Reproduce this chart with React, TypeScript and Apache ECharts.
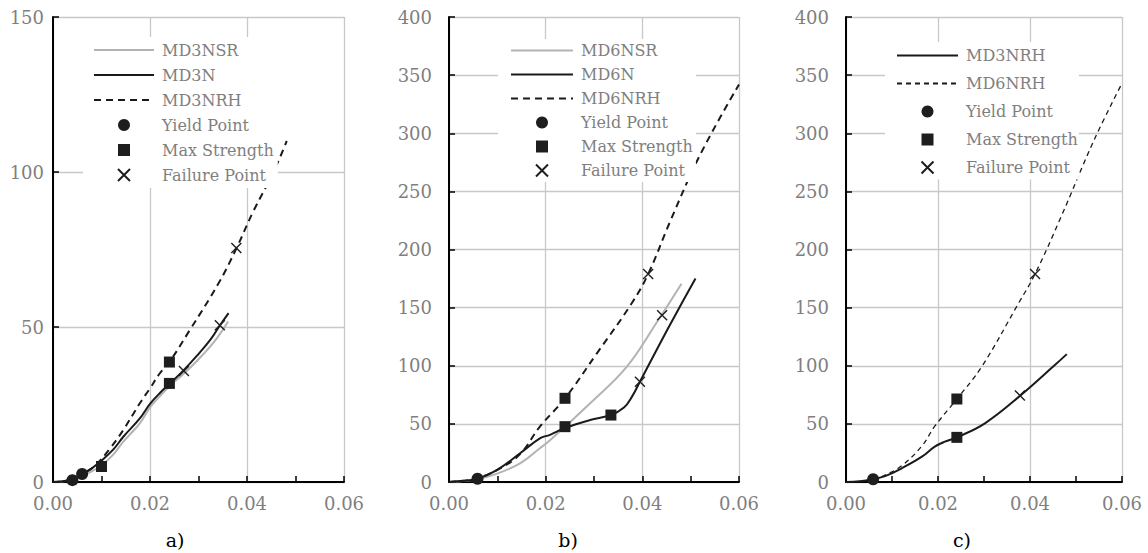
import React, { useEffect, useRef } from "react";
import * as echarts from "echarts";

type Pt = [number, number];

// ---------- Panel a) ----------
const aMD3NSR: Pt[] = [[0, 0], [0.003, 0.4], [0.005, 1.3], [0.0075, 3], [0.01, 5.4], [0.0125, 9], [0.0145, 13], [0.0179, 18.9], [0.02, 24.1], [0.022, 27.6], [0.024, 30.9], [0.027, 35], [0.03, 39.6], [0.0335, 45.8], [0.0361, 51.8]];
const aMD3N: Pt[] = [[0, 0], [0.003, 0.5], [0.0045, 1.3], [0.006, 2.6], [0.008, 4.4], [0.01, 6.9], [0.0125, 10.6], [0.0145, 14.6], [0.0179, 20.5], [0.02, 25.2], [0.0221, 28.8], [0.024, 31.6], [0.0269, 36], [0.0296, 40.6], [0.0325, 46], [0.0344, 50.5], [0.0362, 54.5]];
const aMD3NRH: Pt[] = [[0, 0], [0.003, 0.5], [0.006, 2.6], [0.0085, 5], [0.0118, 10.9], [0.0145, 16.8], [0.0179, 25.4], [0.02, 30.2], [0.022, 35], [0.024, 38.7], [0.0282, 49], [0.0341, 64], [0.0378, 75.3], [0.0413, 87.3], [0.0454, 99.8], [0.0482, 110]];
const aYield: Pt[] = [[0.004, 0.6], [0.006, 2.6]];
const aMaxStrength: Pt[] = [[0.01, 5], [0.024, 31.8], [0.024, 38.7]];
const aFailure: Pt[] = [[0.027, 35.8], [0.0344, 50.6], [0.0378, 75.5]];

// ---------- Panel b) ----------
const bMD6NSR: Pt[] = [[0, 0], [0.003, 0.8], [0.006, 2.5], [0.0098, 7], [0.0147, 16], [0.0188, 29], [0.0209, 36], [0.024, 47.6], [0.0292, 67.7], [0.0368, 99.2], [0.0433, 139.4], [0.0481, 170.6]];
const bMD6N: Pt[] = [[0, 0], [0.003, 1], [0.0059, 2.8], [0.0098, 10], [0.0147, 24.7], [0.0188, 37.6], [0.0209, 40.6], [0.024, 46.5], [0.0292, 53.3], [0.0335, 57.6], [0.0362, 64], [0.0378, 73], [0.0395, 86.3], [0.0433, 116.4], [0.047, 145], [0.051, 175]];
const bMD6NRH: Pt[] = [[0, 0], [0.005, 2.5], [0.0098, 10], [0.0146, 23.6], [0.0188, 47.6], [0.024, 72], [0.0306, 110.7], [0.0378, 153.7], [0.0412, 178.8], [0.0457, 223.6], [0.0519, 281], [0.06, 342]];
const bYield: Pt[] = [[0.0059, 2.8]];
const bMaxStrength: Pt[] = [[0.024, 72], [0.024, 47.6], [0.0335, 57.6]];
const bFailure: Pt[] = [[0.0412, 179], [0.0441, 143.5], [0.0395, 86.3]];

// ---------- Panel c) ----------
const cMD3NRH: Pt[] = [[0, 0], [0.003, 0.6], [0.0059, 2.4], [0.0085, 5], [0.0121, 11.8], [0.0165, 21.8], [0.0193, 30.4], [0.0215, 34.7], [0.0241, 38.4], [0.0302, 50.5], [0.0378, 74], [0.0454, 100.6], [0.048, 110]];
const cMD6NRH: Pt[] = [[0, 0], [0.003, 0.6], [0.0059, 2.4], [0.0085, 6], [0.0121, 14], [0.0165, 31], [0.0193, 48], [0.0241, 71.4], [0.0295, 99.2], [0.0375, 153.7], [0.0411, 179], [0.0466, 226.7], [0.0538, 293], [0.06, 343]];
const cYield: Pt[] = [[0.0059, 2.4]];
const cMaxStrength: Pt[] = [[0.0241, 71.4], [0.0241, 38.4]];
const cFailure: Pt[] = [[0.0411, 179], [0.0378, 74.5]];

// ---------- Axes / labels ----------
const xRange = { min: 0, max: 0.06, interval: 0.02 };
const yMaxes = [150, 400, 400];
const yInterval = 50;
const panelCaptions = ["a)", "b)", "c)"];

const FONT = "DejaVu Serif";
const BLACK = "#1a1a1a";
const GRAY_LINE = "#b3b3b3";
const LABEL_GRAY = "#7f7f7f";
const CROSS = "path://M0,0L10,10M10,0L0,10";
const SQUARE = "path://M0,0L10,0L10,10L0,10Z";

const grids = [
  { left: 53, top: 17, width: 291, height: 465 },
  { left: 449, top: 17, width: 290, height: 465 },
  { left: 846, top: 17, width: 276, height: 465 },
];
const yLabelMargins = [9, 17, 17];
const captionX = [175, 568, 962];

function lineSeries(name: string, data: Pt[], gi: number, color: string, width: number, dash?: number[]) {
  return {
    type: "line",
    name,
    data,
    xAxisIndex: gi,
    yAxisIndex: gi,
    symbol: "none",
    showSymbol: false,
    smooth: 0.4,
    z: 2,
    lineStyle: { color, width, type: dash ? dash : "solid", cap: "butt" },
    itemStyle: { color },
  };
}

function scatterSeries(name: string, data: Pt[], gi: number, kind: "circle" | "square" | "cross") {
  const base: any = {
    type: "scatter",
    name,
    data,
    xAxisIndex: gi,
    yAxisIndex: gi,
    z: 3,
  };
  if (kind === "circle") {
    base.symbol = "circle";
    base.symbolSize = 12;
    base.itemStyle = { color: "#1e1e1e", opacity: 1 };
  } else if (kind === "square") {
    base.symbol = SQUARE;
    base.symbolSize = 11;
    base.itemStyle = { color: "#1e1e1e", opacity: 1 };
  } else {
    base.symbol = CROSS;
    base.symbolSize = 10;
    base.itemStyle = { color: "rgba(0,0,0,0)", borderColor: "#1e1e1e", borderWidth: 1.4, opacity: 1 };
  }
  return base;
}

function legendData(prefix: string, lines: string[], points: string[]) {
  return [
    ...lines.map((n) => ({ name: prefix + n, itemStyle: { opacity: 0 } })),
    ...points.map((n) => ({ name: prefix + n })),
  ];
}

export default function App() {
  const ref = useRef<HTMLDivElement>(null);

  useEffect(() => {
    if (!ref.current) return;
    const chart = echarts.init(ref.current, undefined, { renderer: "svg" });

    const xAxes = grids.map((_, gi) => ({
      type: "value",
      gridIndex: gi,
      min: xRange.min,
      max: xRange.max,
      interval: xRange.interval,
      axisLine: { show: true, onZero: false, lineStyle: { color: "#000", width: 2 } },
      axisTick: { show: true, inside: true, length: 6, lineStyle: { color: "#000", width: 1.5 } },
      minorTick: { show: true, splitNumber: 2, length: 6, lineStyle: { color: "#000", width: 1.5 } },
      axisLabel: {
        color: LABEL_GRAY,
        fontFamily: FONT,
        fontSize: 18,
        margin: 12,
        formatter: (v: number) => v.toFixed(2),
      },
      splitLine: { show: true, lineStyle: { color: "#c8c8c8", width: 1.3 } },
    }));

    const yAxes = grids.map((_, gi) => ({
      type: "value",
      gridIndex: gi,
      min: 0,
      max: yMaxes[gi],
      interval: yInterval,
      axisLine: { show: true, onZero: false, lineStyle: { color: "#000", width: 2 } },
      axisTick: { show: true, inside: true, length: 6, lineStyle: { color: "#000", width: 1.5 } },
      axisLabel: {
        color: LABEL_GRAY,
        fontFamily: FONT,
        fontSize: 18,
        margin: yLabelMargins[gi],
      },
      splitLine: { show: true, lineStyle: { color: "#c8c8c8", width: 1.3 } },
    }));

    const series = [
      lineSeries("a:MD3NSR", aMD3NSR, 0, GRAY_LINE, 2),
      lineSeries("a:MD3N", aMD3N, 0, BLACK, 2),
      lineSeries("a:MD3NRH", aMD3NRH, 0, BLACK, 2, [7, 5]),
      scatterSeries("a:Yield Point", aYield, 0, "circle"),
      scatterSeries("a:Max Strength", aMaxStrength, 0, "square"),
      scatterSeries("a:Failure Point", aFailure, 0, "cross"),

      lineSeries("b:MD6NSR", bMD6NSR, 1, GRAY_LINE, 2),
      lineSeries("b:MD6N", bMD6N, 1, BLACK, 2),
      lineSeries("b:MD6NRH", bMD6NRH, 1, BLACK, 2, [7, 5]),
      scatterSeries("b:Yield Point", bYield, 1, "circle"),
      scatterSeries("b:Max Strength", bMaxStrength, 1, "square"),
      scatterSeries("b:Failure Point", bFailure, 1, "cross"),

      lineSeries("c:MD3NRH", cMD3NRH, 2, BLACK, 2),
      lineSeries("c:MD6NRH", cMD6NRH, 2, BLACK, 1.3, [5, 4]),
      scatterSeries("c:Yield Point", cYield, 2, "circle"),
      scatterSeries("c:Max Strength", cMaxStrength, 2, "square"),
      scatterSeries("c:Failure Point", cFailure, 2, "cross"),
    ];

    const pts = ["Yield Point", "Max Strength", "Failure Point"];
    const legendBase = {
      orient: "vertical",
      backgroundColor: "#fff",
      selectedMode: false,
      itemHeight: 12,
      formatter: (n: string) => n.slice(2),
      textStyle: { color: LABEL_GRAY, fontFamily: FONT, fontSize: 16, lineHeight: 20, padding: [0, 0, 0, 3] },
    };

    const legends = [
      {
        ...legendBase,
        left: 83, top: 37, padding: [3, 4, 3, 10], itemGap: 5, itemWidth: 60,
        data: legendData("a:", ["MD3NSR", "MD3N", "MD3NRH"], pts),
      },
      {
        ...legendBase,
        left: 498, top: 39, padding: [1.5, 3, 1.5, 12], itemGap: 4, itemWidth: 62,
        data: legendData("b:", ["MD6NSR", "MD6N", "MD6NRH"], pts),
      },
      {
        ...legendBase,
        left: 885, top: 42, padding: [3.5, 1, 2, 11], itemGap: 8, itemWidth: 61,
        data: legendData("c:", ["MD3NRH", "MD6NRH"], pts),
      },
    ];

    chart.setOption({
      animation: false,
      backgroundColor: "#fff",
      grid: grids,
      xAxis: xAxes,
      yAxis: yAxes,
      legend: legends,
      series,
      graphic: panelCaptions.map((t, i) => ({
        type: "text",
        x: captionX[i],
        y: 540,
        style: {
          text: t,
          fill: "#000",
          fontFamily: FONT,
          fontSize: 19,
          textAlign: "center",
          textVerticalAlign: "middle",
        },
      })),
    });

    return () => chart.dispose();
  }, []);

  return (
    <div
      ref={ref}
      style={{ position: "absolute", left: 0, top: 0, width: 1148, height: 553 }}
    />
  );
}
